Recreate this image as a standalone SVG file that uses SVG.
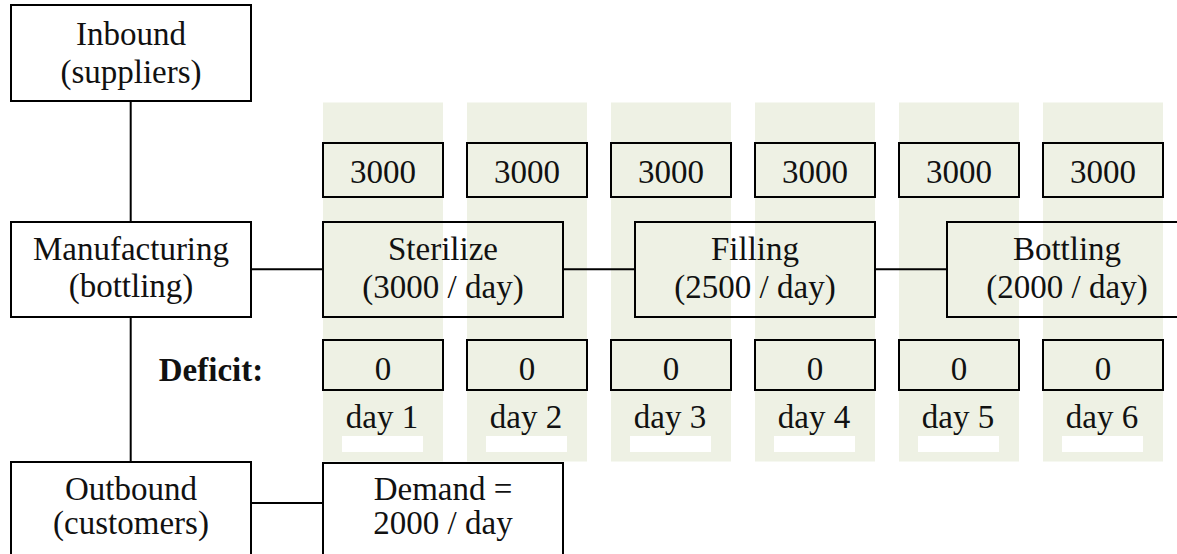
<svg xmlns="http://www.w3.org/2000/svg" width="1177" height="554" viewBox="0 0 1177 554">
<style>
text{font-family:"Liberation Serif","Times New Roman",serif;font-size:33px;fill:#111;text-anchor:middle}
.bold{font-weight:bold}
.box{fill:none;stroke:#000;stroke-width:2}
.col{fill:#EEF1E4}
.bar{fill:#fff}
.ln{stroke:#000;stroke-width:2;fill:none}
</style>
<rect width="1177" height="554" fill="#fff"/>
<g id="columns">
<rect class="col" x="323" y="102.5" width="120" height="359"/>
<rect class="col" x="467" y="102.5" width="120" height="359"/>
<rect class="col" x="611" y="102.5" width="120" height="359"/>
<rect class="col" x="755" y="102.5" width="120" height="359"/>
<rect class="col" x="899" y="102.5" width="120" height="359"/>
<rect class="col" x="1043" y="102.5" width="120" height="359"/>
<rect class="bar" x="342" y="436" width="81" height="16"/>
<rect class="bar" x="486" y="436" width="81" height="16"/>
<rect class="bar" x="630" y="436" width="81" height="16"/>
<rect class="bar" x="774" y="436" width="81" height="16"/>
<rect class="bar" x="918" y="436" width="81" height="16"/>
<rect class="bar" x="1062" y="436" width="81" height="16"/>
</g>
<g id="connectors">
<line class="ln" x1="130.7" y1="101" x2="130.7" y2="222"/>
<line class="ln" x1="130.7" y1="317" x2="130.7" y2="462"/>
<line class="ln" x1="251" y1="269.3" x2="323" y2="269.3"/>
<line class="ln" x1="563" y1="269.3" x2="635" y2="269.3"/>
<line class="ln" x1="875" y1="269.3" x2="947" y2="269.3"/>
<line class="ln" x1="251" y1="503" x2="323" y2="503"/>
</g>
<g id="inbound">
<rect class="box" x="11" y="5" width="240" height="96"/>
<text x="131" y="45">Inbound</text>
<text x="131" y="83">(suppliers)</text>
</g>
<g id="manufacturing">
<rect class="box" x="11" y="222" width="240" height="95"/>
<text x="131" y="260">Manufacturing</text>
<text x="131" y="297">(bottling)</text>
</g>
<g id="outbound">
<rect class="box" x="11" y="462" width="240" height="100"/>
<text x="131" y="500">Outbound</text>
<text x="131" y="534">(customers)</text>
</g>
<g id="demand">
<rect class="box" x="323" y="463" width="240" height="100"/>
<text x="443" y="500">Demand =</text>
<text x="443" y="534">2000 / day</text>
</g>
<g id="sterilize">
<rect class="box" x="323" y="222" width="240" height="95"/>
<text x="443" y="260">Sterilize</text>
<text x="443" y="298">(3000 / day)</text>
</g>
<g id="filling">
<rect class="box" x="635" y="222" width="240" height="95"/>
<text x="755" y="260">Filling</text>
<text x="755" y="298">(2500 / day)</text>
</g>
<g id="bottling">
<rect class="box" x="947" y="222" width="240" height="95"/>
<text x="1067" y="260">Bottling</text>
<text x="1067" y="298">(2000 / day)</text>
</g>
<g id="capacity">
<rect class="box" x="323" y="143" width="120" height="54"/><text x="383" y="183">3000</text>
<rect class="box" x="467" y="143" width="120" height="54"/><text x="527" y="183">3000</text>
<rect class="box" x="611" y="143" width="120" height="54"/><text x="671" y="183">3000</text>
<rect class="box" x="755" y="143" width="120" height="54"/><text x="815" y="183">3000</text>
<rect class="box" x="899" y="143" width="120" height="54"/><text x="959" y="183">3000</text>
<rect class="box" x="1043" y="143" width="120" height="54"/><text x="1103" y="183">3000</text>
</g>
<g id="deficit">
<text class="bold" x="211" y="381">Deficit:</text>
<rect class="box" x="323" y="340" width="120" height="50"/><text x="383" y="380">0</text>
<rect class="box" x="467" y="340" width="120" height="50"/><text x="527" y="380">0</text>
<rect class="box" x="611" y="340" width="120" height="50"/><text x="671" y="380">0</text>
<rect class="box" x="755" y="340" width="120" height="50"/><text x="815" y="380">0</text>
<rect class="box" x="899" y="340" width="120" height="50"/><text x="959" y="380">0</text>
<rect class="box" x="1043" y="340" width="120" height="50"/><text x="1103" y="380">0</text>
</g>
<g id="days">
<text x="382" y="428">day 1</text>
<text x="526" y="428">day 2</text>
<text x="670" y="428">day 3</text>
<text x="814" y="428">day 4</text>
<text x="958" y="428">day 5</text>
<text x="1102" y="428">day 6</text>
</g>
</svg>
